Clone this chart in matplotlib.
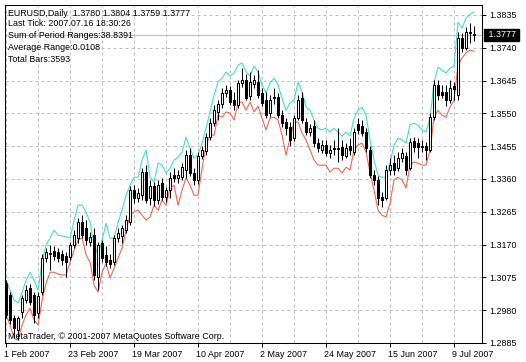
import matplotlib
matplotlib.use("Agg")
import matplotlib.pyplot as plt
import matplotlib.transforms as mtransforms
import pandas as pd

# trading days shown on the chart
dates = pd.bdate_range("2007-02-01", "2007-07-16")

opens = [
    1.3058, 1.3024, 1.2957, 1.2922, 1.2975, 1.3009, 1.3044, 1.3024, 1.2972, 1.3032,
    1.3131, 1.3145, 1.3151, 1.3148, 1.3142, 1.3137, 1.3134, 1.3168, 1.3189, 1.3235,
    1.3218, 1.3177, 1.3197, 1.3076, 1.3174, 1.3140, 1.3125, 1.3119, 1.3189, 1.3195,
    1.3212, 1.3235, 1.3328, 1.3305, 1.3313, 1.3380, 1.3305, 1.3339, 1.3299, 1.3348,
    1.3308, 1.3328, 1.3371, 1.3363, 1.3365, 1.3386, 1.3429, 1.3377, 1.3357, 1.3426,
    1.3441, 1.3481, 1.3522, 1.3554, 1.3577, 1.3609, 1.3617, 1.3588, 1.3574, 1.3638,
    1.3646, 1.3600, 1.3635, 1.3641, 1.3609, 1.3588, 1.3551, 1.3594, 1.3597, 1.3545,
    1.3525, 1.3510, 1.3478, 1.3536, 1.3594, 1.3525, 1.3496, 1.3513, 1.3464, 1.3444,
    1.3458, 1.3435, 1.3449, 1.3446, 1.3452, 1.3426, 1.3455, 1.3438, 1.3519, 1.3513,
    1.3496, 1.3444, 1.3371, 1.3357, 1.3308, 1.3305, 1.3386, 1.3406, 1.3391, 1.3420,
    1.3426, 1.3392, 1.3470, 1.3464, 1.3452, 1.3455, 1.3444, 1.3539, 1.3632, 1.3612,
    1.3612, 1.3588, 1.3629, 1.3603, 1.3768, 1.3739, 1.3782, 1.3780]
highs = [
    1.3067, 1.3032, 1.2966, 1.2963, 1.3024, 1.3052, 1.3055, 1.3032, 1.3032, 1.3142,
    1.3160, 1.3168, 1.3166, 1.3160, 1.3154, 1.3148, 1.3177, 1.3212, 1.3247, 1.3255,
    1.3241, 1.3206, 1.3218, 1.3177, 1.3183, 1.3166, 1.3142, 1.3197, 1.3218, 1.3226,
    1.3255, 1.3339, 1.3342, 1.3334, 1.3391, 1.3400, 1.3357, 1.3351, 1.3357, 1.3363,
    1.3336, 1.3380, 1.3391, 1.3386, 1.3406, 1.3444, 1.3449, 1.3391, 1.3438, 1.3455,
    1.3493, 1.3536, 1.3574, 1.3588, 1.3623, 1.3632, 1.3629, 1.3612, 1.3646, 1.3681,
    1.3664, 1.3670, 1.3661, 1.3675, 1.3623, 1.3612, 1.3603, 1.3623, 1.3609, 1.3559,
    1.3536, 1.3525, 1.3545, 1.3603, 1.3612, 1.3536, 1.3519, 1.3530, 1.3478, 1.3473,
    1.3473, 1.3458, 1.3473, 1.3507, 1.3473, 1.3464, 1.3478, 1.3507, 1.3536, 1.3530,
    1.3507, 1.3455, 1.3386, 1.3368, 1.3322, 1.3400, 1.3420, 1.3429, 1.3438, 1.3449,
    1.3438, 1.3478, 1.3481, 1.3478, 1.3473, 1.3467, 1.3551, 1.3646, 1.3646, 1.3632,
    1.3632, 1.3646, 1.3641, 1.3785, 1.3782, 1.3800, 1.3811, 1.3804]
lows = [
    1.2957, 1.2940, 1.2902, 1.2893, 1.2957, 1.3001, 1.2995, 1.2942, 1.2957, 1.3024,
    1.3119, 1.3096, 1.3125, 1.3119, 1.3111, 1.3076, 1.3125, 1.3160, 1.3174, 1.3189,
    1.3168, 1.3166, 1.3067, 1.3038, 1.3119, 1.3108, 1.3102, 1.3111, 1.3177, 1.3174,
    1.3203, 1.3226, 1.3290, 1.3293, 1.3299, 1.3290, 1.3284, 1.3281, 1.3287, 1.3299,
    1.3293, 1.3305, 1.3351, 1.3348, 1.3357, 1.3363, 1.3368, 1.3342, 1.3345, 1.3418,
    1.3429, 1.3473, 1.3513, 1.3530, 1.3565, 1.3597, 1.3574, 1.3559, 1.3565, 1.3626,
    1.3588, 1.3588, 1.3623, 1.3594, 1.3571, 1.3536, 1.3539, 1.3577, 1.3536, 1.3510,
    1.3487, 1.3455, 1.3470, 1.3530, 1.3522, 1.3487, 1.3484, 1.3452, 1.3438, 1.3435,
    1.3426, 1.3420, 1.3429, 1.3409, 1.3415, 1.3420, 1.3429, 1.3429, 1.3490, 1.3484,
    1.3438, 1.3363, 1.3342, 1.3284, 1.3279, 1.3299, 1.3371, 1.3371, 1.3383, 1.3409,
    1.3371, 1.3386, 1.3438, 1.3420, 1.3438, 1.3415, 1.3438, 1.3530, 1.3588, 1.3594,
    1.3571, 1.3580, 1.3588, 1.3588, 1.3727, 1.3733, 1.3753, 1.3759]
closes = [
    1.2966, 1.2951, 1.2928, 1.2957, 1.3015, 1.3038, 1.3003, 1.2966, 1.3021, 1.3131,
    1.3148, 1.3142, 1.3137, 1.3131, 1.3125, 1.3119, 1.3168, 1.3197, 1.3235, 1.3197,
    1.3183, 1.3192, 1.3082, 1.3168, 1.3131, 1.3119, 1.3113, 1.3189, 1.3203, 1.3218,
    1.3241, 1.3328, 1.3305, 1.3319, 1.3380, 1.3299, 1.3339, 1.3299, 1.3342, 1.3308,
    1.3328, 1.3363, 1.3363, 1.3371, 1.3394, 1.3429, 1.3377, 1.3357, 1.3426, 1.3444,
    1.3481, 1.3522, 1.3559, 1.3577, 1.3609, 1.3617, 1.3583, 1.3574, 1.3638, 1.3646,
    1.3594, 1.3641, 1.3646, 1.3603, 1.3580, 1.3545, 1.3588, 1.3597, 1.3545, 1.3522,
    1.3507, 1.3473, 1.3536, 1.3588, 1.3530, 1.3496, 1.3507, 1.3464, 1.3449, 1.3458,
    1.3435, 1.3444, 1.3446, 1.3449, 1.3429, 1.3449, 1.3444, 1.3496, 1.3502, 1.3493,
    1.3449, 1.3371, 1.3357, 1.3305, 1.3299, 1.3386, 1.3400, 1.3386, 1.3420, 1.3435,
    1.3386, 1.3467, 1.3452, 1.3452, 1.3455, 1.3444, 1.3539, 1.3632, 1.3603, 1.3603,
    1.3588, 1.3623, 1.3620, 1.3768, 1.3739, 1.3785, 1.3785, 1.3777]

# envelope lines (turquoise above, red below)
upper = [
    1.3067, 1.3038, 1.3009, 1.3001, 1.3032, 1.3067, 1.3090, 1.3067, 1.3038, 1.3119,
    1.3169, 1.3189, 1.3212, 1.3197, 1.3195, 1.3192, 1.3189, 1.3241, 1.3284, 1.3284,
    1.3264, 1.3235, 1.3169, 1.3140, 1.3183, 1.3232, 1.3189, 1.3189, 1.3235, 1.3270,
    1.3313, 1.3342, 1.3365, 1.3365, 1.3415, 1.3444, 1.3365, 1.3351, 1.3406, 1.3400,
    1.3377, 1.3391, 1.3415, 1.3423, 1.3438, 1.3481, 1.3449, 1.3420, 1.3429, 1.3464,
    1.3507, 1.3554, 1.3603, 1.3641, 1.3652, 1.3670, 1.3658, 1.3667, 1.3690, 1.3696,
    1.3670, 1.3658, 1.3687, 1.3670, 1.3632, 1.3609, 1.3638, 1.3652, 1.3632, 1.3594,
    1.3559, 1.3580, 1.3588, 1.3641, 1.3612, 1.3568, 1.3559, 1.3531, 1.3507, 1.3502,
    1.3507, 1.3496, 1.3507, 1.3496, 1.3484, 1.3496, 1.3484, 1.3536, 1.3559, 1.3568,
    1.3545, 1.3473, 1.3415, 1.3371, 1.3365, 1.3365, 1.3406, 1.3458, 1.3478, 1.3473,
    1.3464, 1.3516, 1.3522, 1.3516, 1.3502, 1.3496, 1.3536, 1.3638, 1.3684, 1.3675,
    1.3667, 1.3681, 1.3687, 1.3814, 1.3797, 1.3826, 1.3837, 1.3843]
lower = [
    1.2966, 1.2937, 1.2899, 1.2893, 1.2937, 1.2966, 1.2986, 1.2951, 1.2937, 1.3009,
    1.3058, 1.3090, 1.3090, 1.3085, 1.3082, 1.3082, 1.3119, 1.3154, 1.3183, 1.3189,
    1.3140, 1.3119, 1.3053, 1.3032, 1.3090, 1.3116, 1.3073, 1.3102, 1.3131, 1.3160,
    1.3212, 1.3255, 1.3264, 1.3270, 1.3255, 1.3241, 1.3250, 1.3284, 1.3270, 1.3299,
    1.3284, 1.3334, 1.3342, 1.3284, 1.3328, 1.3363, 1.3342, 1.3313, 1.3313, 1.3391,
    1.3458, 1.3487, 1.3487, 1.3545, 1.3539, 1.3554, 1.3551, 1.3531, 1.3580, 1.3583,
    1.3559, 1.3583, 1.3554, 1.3571, 1.3536, 1.3502, 1.3536, 1.3539, 1.3531, 1.3487,
    1.3429, 1.3478, 1.3525, 1.3525, 1.3493, 1.3473, 1.3444, 1.3415, 1.3400, 1.3400,
    1.3400, 1.3380, 1.3391, 1.3391, 1.3377, 1.3394, 1.3386, 1.3444, 1.3458, 1.3464,
    1.3438, 1.3380, 1.3328, 1.3270, 1.3255, 1.3250, 1.3290, 1.3357, 1.3365, 1.3357,
    1.3334, 1.3400, 1.3409, 1.3406, 1.3400, 1.3400, 1.3444, 1.3539, 1.3559, 1.3545,
    1.3539, 1.3568, 1.3588, 1.3690, 1.3710, 1.3725, 1.3733, 1.3730]

tick_dates = ["2007-02-01", "2007-02-23", "2007-03-19", "2007-04-10",
              "2007-05-02", "2007-05-24", "2007-06-15", "2007-07-09"]
tick_labels = ["1 Feb 2007", "23 Feb 2007", "19 Mar 2007", "10 Apr 2007",
               "2 May 2007", "24 May 2007", "15 Jun 2007", "9 Jul 2007"]
price_ticks = [1.2885, 1.2980, 1.3075, 1.3170, 1.3265, 1.3360,
               1.3455, 1.3550, 1.3645, 1.3740, 1.3835]
last_price = 1.3777

info_lines = ["EURUSD,Daily  1.3780 1.3804 1.3759 1.3777",
              "Last Tick: 2007.07.16 18:30:26",
              "Sum of Period Ranges:38.8391",
              "Average Range:0.0108",
              "Total Bars:3593"]
copyright_text = "MetaTrader, \u00a9 2001-2007 MetaQuotes Software Corp."

plt.rcParams['font.family'] = ['Liberation Sans', 'DejaVu Sans']
FS = 6.4

W, H = 526, 362
fig = plt.figure(figsize=(W / 100, H / 100), dpi=100)
ax = fig.add_axes([4.5 / W, 19 / H, 477.5 / W, 338 / H])

xs = list(range(len(dates)))

# candles: wick first, body on top
ax.vlines(xs, lows, highs, color='black', linewidth=0.75, zorder=3)
for x, o, c in zip(xs, opens, closes):
    bottom = min(o, c)
    height = max(abs(c - o), 0.00001)
    face = 'white' if c >= o else 'black'
    ax.bar(x, height, bottom=bottom, width=0.5, facecolor=face,
           edgecolor='black', linewidth=0.75, zorder=4)

ax.plot(xs, upper, color='#40E0C8', linewidth=0.8, zorder=2)
ax.plot(xs, lower, color='#F0674F', linewidth=0.8, zorder=2)

# current price line
ax.axhline(last_price, color='#C0C0C0', linewidth=0.8, zorder=1)

ax.set_xlim(-0.4, 119.0)
ax.set_ylim(1.2885, 1.38638)

# price axis on the right
ax.yaxis.tick_right()
ax.set_yticks(price_ticks)
ax.set_yticklabels([f"{p:.4f}" for p in price_ticks])
ax.tick_params(axis='y', length=3, width=0.7, pad=2, labelsize=FS, direction='out')

tick_pos = [dates.get_loc(pd.Timestamp(d)) for d in tick_dates]
ax.set_xticks(tick_pos)
ax.set_xticklabels(tick_labels)
ax.set_xticks(list(range(0, len(dates), 8)), minor=True)
ax.tick_params(axis='x', which='major', length=3, width=0.7, pad=2, labelsize=FS)
ax.tick_params(axis='x', which='minor', length=0)
shift = mtransforms.ScaledTranslation(-2 / 100, 0, fig.dpi_scale_trans)
for lab in ax.get_xticklabels():
    lab.set_horizontalalignment('left')
    lab.set_transform(lab.get_transform() + shift)

grid_style = dict(color='#C0C0C0', linestyle=(0, (3, 3)), linewidth=0.72)
ax.grid(True, axis='y', which='major', **grid_style)
ax.grid(True, axis='x', which='both', **grid_style)
ax.set_axisbelow(True)

for sp in ax.spines.values():
    sp.set_color('black')
    sp.set_linewidth(0.75)

# last price marker on the price axis
blend = mtransforms.blended_transform_factory(ax.transAxes, ax.transData)
ax.text(1.0 + 3.5 / 477.5, last_price, " 1.3777 ", transform=blend,
        ha='left', va='center', color='white', fontsize=FS, clip_on=False,
        bbox=dict(boxstyle='square,pad=0.12', facecolor='black', edgecolor='black'))

# info text in the top left corner
for y_px, line in zip([13, 24, 35, 48, 60], info_lines):
    fig.text(8 / W, 1 - y_px / H, line, ha='left', va='center', fontsize=FS, color='black')

fig.text(8 / W, 1 - 336.5 / H, copyright_text, ha='left', va='center',
         fontsize=FS, color='black')

fig.savefig("out.png", dpi=100)
